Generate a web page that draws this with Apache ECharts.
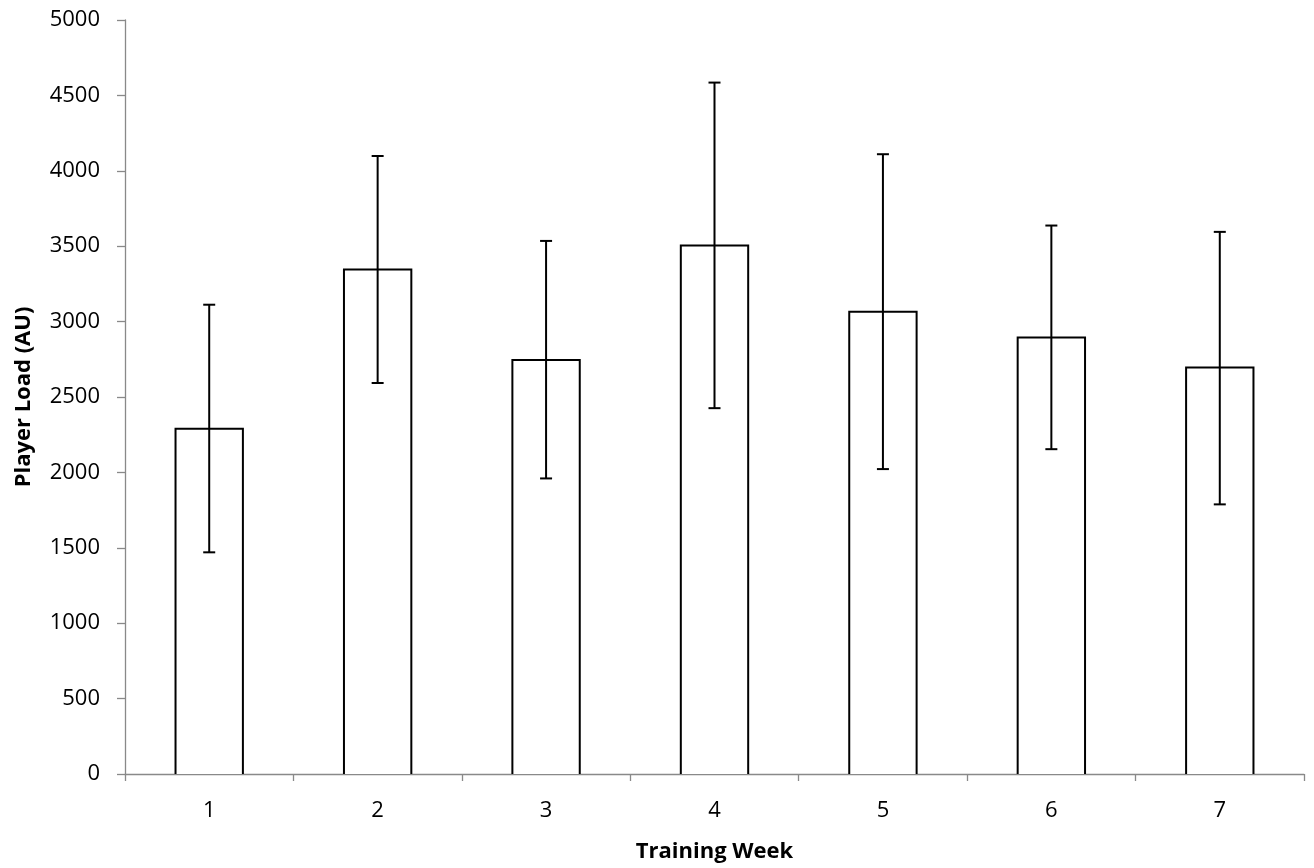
<!DOCTYPE html>
<html>
<head>
<meta charset="utf-8">
<script src="https://cdn.jsdelivr.net/npm/echarts@6/dist/echarts.min.js"></script>
<style>html,body{margin:0;padding:0;background:#fff}#c{width:1314px;height:868px}</style>
</head>
<body>
<div id="c"></div>
<script>
const weeks = ['1', '2', '3', '4', '5', '6', '7'];
const meanLoad = [2290, 3345, 2745, 3505, 3065, 2895, 2695];
const errUpper = [3112, 4098, 3535, 4585, 4110, 3637, 3595];
const errLower = [1470, 2593, 1960, 2426, 2022, 2154, 1788];
const yTicks = [0, 500, 1000, 1500, 2000, 2500, 3000, 3500, 4000, 4500, 5000];

const FONT = 'Open Sans';
const chart = echarts.init(document.getElementById('c'), null, {renderer: 'canvas'});
const barData = weeks.map((w, i) => [i, meanLoad[i]]);
const errData = weeks.map((w, i) => [i, errLower[i], errUpper[i]]);

chart.setOption({
  animation: false,
  backgroundColor: '#ffffff',
  grid: {left: 125, right: 10, top: 20, bottom: 92.5, containLabel: false},
  xAxis: {
    type: 'category',
    data: weeks,
    name: 'Training Week',
    nameLocation: 'middle',
    nameGap: 67,
    nameTextStyle: {fontFamily: FONT, fontSize: 22, fontWeight: 'bold', color: '#000'},
    axisLine: {lineStyle: {color: '#898989', width: 1.3}},
    axisTick: {show: true, alignWithLabel: false, length: 7, lineStyle: {color: '#898989', width: 1.3}},
    axisLabel: {fontFamily: FONT, fontSize: 22, color: '#000', margin: 26},
    splitLine: {show: false}
  },
  yAxis: {
    type: 'value',
    min: yTicks[0],
    max: yTicks[yTicks.length - 1],
    interval: 500,
    name: 'Player Load (AU)',
    nameLocation: 'middle',
    nameGap: 90,
    nameRotate: 90,
    nameTextStyle: {fontFamily: FONT, fontSize: 22, fontWeight: 'bold', color: '#000'},
    axisLine: {show: true, lineStyle: {color: '#898989', width: 1.3}},
    axisTick: {show: true, length: 8, lineStyle: {color: '#898989', width: 1.3}},
    axisLabel: {fontFamily: FONT, fontSize: 22, color: '#000', margin: 25, formatter: function (v) { return String(v); }},
    splitLine: {show: false}
  },
  series: [
    {
      type: 'custom',
      data: barData,
      z: 2,
      renderItem: function (params, api) {
        const i = api.value(0);
        const top = api.coord([i, api.value(1)]);
        const base = api.coord([i, 0]);
        const w = api.size([1, 0])[0] * 0.4;
        const x0 = top[0] - w / 2, x1 = top[0] + w / 2;
        return {
          type: 'group',
          children: [
            {type: 'rect', shape: {x: x0, y: top[1], width: w, height: base[1] - top[1]}, style: {fill: '#fff'}},
            {type: 'polyline', shape: {points: [[x0, base[1]], [x0, top[1]], [x1, top[1]], [x1, base[1]]]},
             style: {stroke: '#000', lineWidth: 2, fill: null}}
          ]
        };
      }
    },
    {
      type: 'custom',
      data: errData,
      z: 5,
      renderItem: function (params, api) {
        const x = api.value(0);
        const lo = api.coord([x, api.value(1)]);
        const hi = api.coord([x, api.value(2)]);
        const hw = 6;
        const st = {stroke: '#000', lineWidth: 2};
        return {
          type: 'group',
          children: [
            {type: 'line', shape: {x1: hi[0], y1: hi[1], x2: lo[0], y2: lo[1]}, style: st},
            {type: 'line', shape: {x1: hi[0] - hw, y1: hi[1], x2: hi[0] + hw, y2: hi[1]}, style: st},
            {type: 'line', shape: {x1: lo[0] - hw, y1: lo[1], x2: lo[0] + hw, y2: lo[1]}, style: st}
          ]
        };
      }
    }
  ]
});
</script>
</body>
</html>
